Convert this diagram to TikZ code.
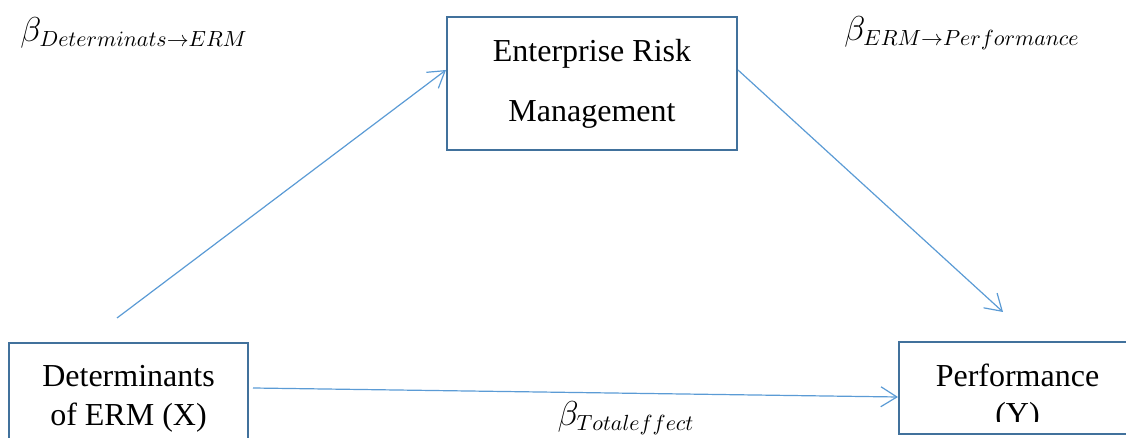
\documentclass[tikz,border=0pt]{standalone}
\usepackage{fontspec}
\setmainfont{Liberation Serif}
\newfontfamily\tnrfont{Liberation Serif}
\usetikzlibrary{arrows.meta,calc}
\definecolor{boxblue}{RGB}{65,113,156}
\definecolor{lineblue}{RGB}{91,155,213}
\tikzset{
  varbox/.style={draw=boxblue,line width=1pt,inner sep=0pt,align=center},
  linkarrow/.style={draw=lineblue,line width=0.6pt,-{Straight Barb[length=8pt,width=10pt]}},
}
\begin{document}
\begin{tikzpicture}[x=0.5pt,y=-0.5pt,font=\tnrfont\fontsize{16}{19}\selectfont]
    \path[use as bounding box,clip] (0,0) rectangle (1126,438);
    % variables
    \node[varbox,minimum width=145pt,minimum height=66.5pt,font=\tnrfont\fontsize{16}{30}\selectfont] (erm) at (592,83.5) {Enterprise Risk\\Management};
    \node[varbox,minimum width=119.5pt,minimum height=56pt,font=\tnrfont\fontsize{16}{19.5}\selectfont] (det) at (128.5,399) {Determinants\\of ERM (X)};
    \node[varbox,minimum width=118.5pt,minimum height=46pt] (perf) at (1017.5,388) {};
    \begin{scope}
      \clip (899,342) rectangle (1140,422);
      \node[align=center,inner sep=0pt] (perftxt) at (1017.5,397.5) {Performance\\(Y)};
    \end{scope}
    % paths
    \coordinate (dstart) at (117,318);
    \coordinate (pend) at (1003,312);
    \draw[linkarrow] (dstart) -- ($(erm.west)+(0,-13.5)$);
    \draw[linkarrow] ($(erm.east)+(0,-13.5)$) -- (pend);
    \draw[linkarrow] ($(det.east)+(4,-11)$) -- ($(perf.west)+(0,9)$);
    % coefficients
    \node (bde) at (134,33) {$\beta_{Determinats\rightarrow ERM}$};
    \node (bep) at (962,33) {$\beta_{ERM\rightarrow Performance}$};
    \node (bte) at (626,418) {$\beta_{Totaleffect}$};
\end{tikzpicture}
\end{document}
